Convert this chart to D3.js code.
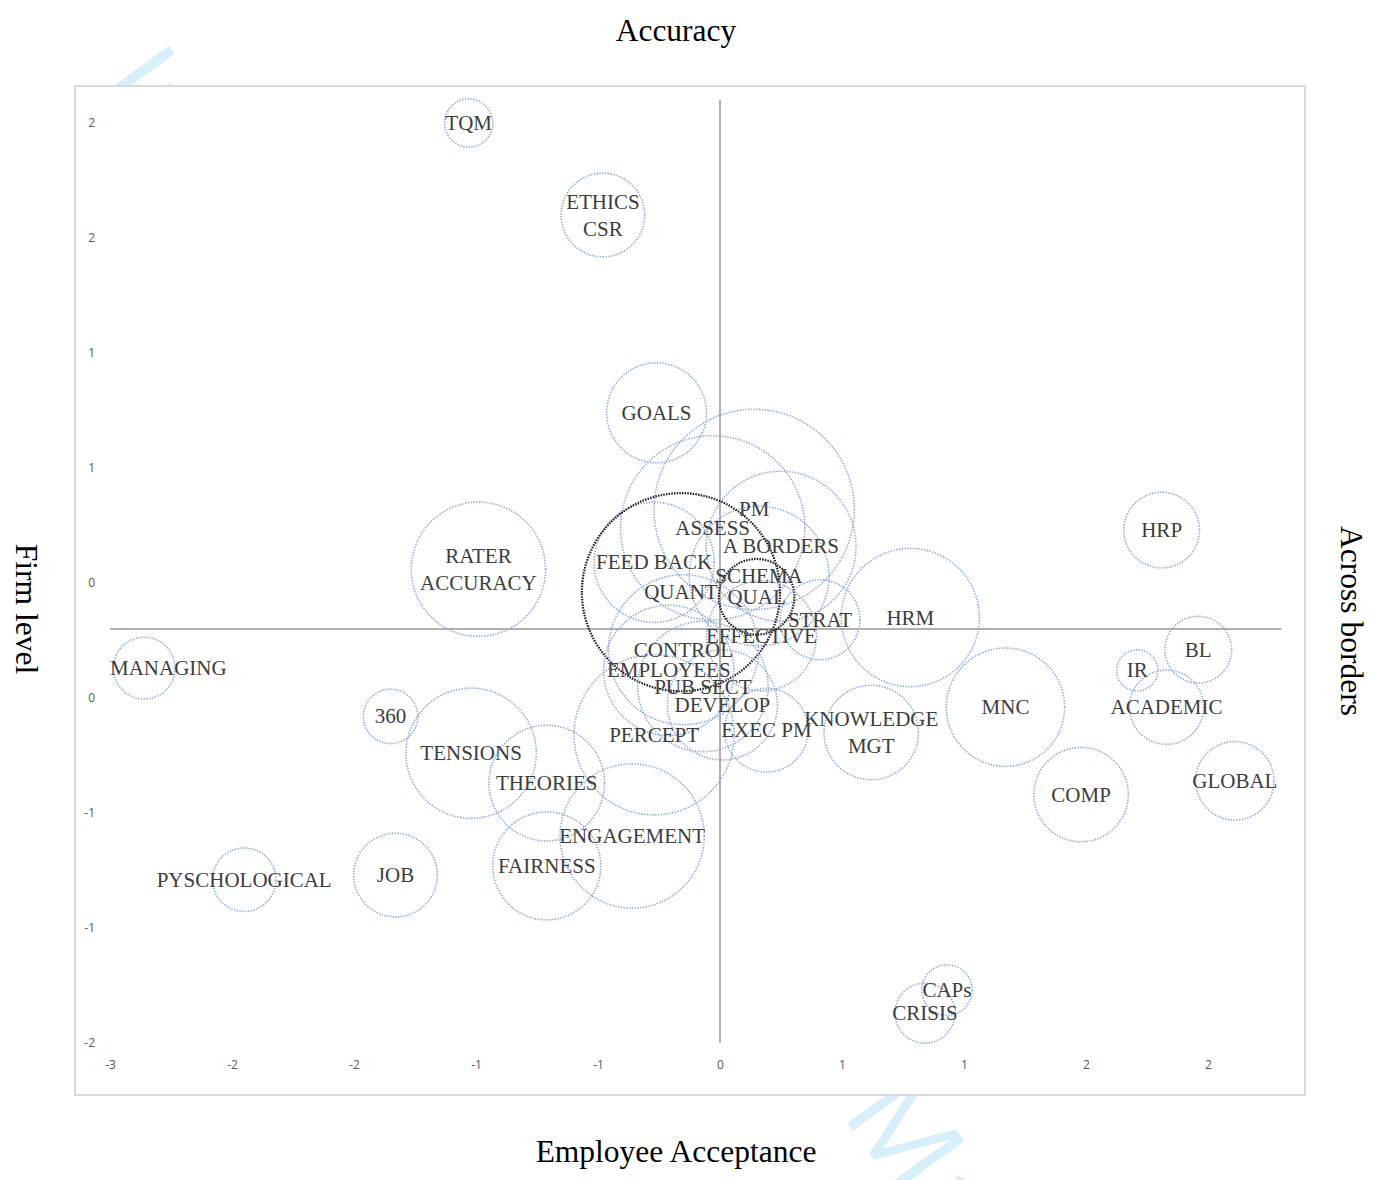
<!DOCTYPE html>
<html>
<head>
<meta charset="utf-8">
<script src="https://d3js.org/d3.v7.min.js"></script>
<style>
body{margin:0;background:#fff;}
</style>
</head>
<body>
<script>
var width = 1374, height = 1180;

// terms (two-line labels use "\n")
var terms = ["TQM","ETHICS\nCSR","GOALS","RATER\nACCURACY","MANAGING","360","TENSIONS","THEORIES",
  "FAIRNESS","ENGAGEMENT","JOB","PYSCHOLOGICAL","PERCEPT","EXEC PM","KNOWLEDGE\nMGT","HRM","MNC",
  "HRP","BL","IR","ACADEMIC","GLOBAL","COMP","CAPs","CRISIS","PM","ASSESS","A BORDERS","FEED BACK",
  "SCHEMA","QUANT","QUAL","STRAT","EFFECTIVE","CONTROL","EMPLOYEES","PUB SECT","DEVELOP"];
// employee acceptance
var acceptance = [-1.03,-0.48,-0.26,-0.99,-2.36,-1.35,-1.02,-0.71,
  -0.71,-0.36,-1.33,-1.95,-0.27,0.19,0.62,0.78,1.17,
  1.81,1.96,1.71,1.83,2.11,1.48,0.93,0.84,0.14,-0.03,0.25,-0.27,
  0.16,-0.16,0.15,0.41,0.17,-0.15,-0.21,-0.07,0.01];
// firm level / across borders
var accuracy = [2.20,1.80,0.94,0.26,-0.17,-0.38,-0.54,-0.67,
  -1.03,-0.90,-1.07,-1.09,-0.46,-0.44,-0.45,0.05,-0.34,
  0.43,-0.09,-0.18,-0.34,-0.66,-0.72,-1.57,-1.67,0.52,0.44,0.36,0.29,
  0.23,0.16,0.14,0.04,-0.03,-0.09,-0.18,-0.25,-0.33];
// bubble sizes
var sizes = [1.1,3.3,4.7,8.5,1.8,1.4,8.0,6.3,
  5.5,9.8,3.3,1.9,12.1,3.3,4.2,9.0,6.6,
  2.7,2.1,0.8,2.6,2.9,4.2,1.2,1.7,18.9,16.0,10.6,6.8,
  9.2,18.5,2.7,3.0,5.7,10.6,8.0,8.0,5.7];
var highlighted = ["QUANT","QUAL"];

var xTicks = [-2.5,-2,-1.5,-1,-0.5,0,0.5,1,1.5,2];
var xTickLabels = ["-3","-2","-2","-1","-1","0","1","1","2","2"];
var yTicks = [2.2,1.7,1.2,0.7,0.2,-0.3,-0.8,-1.3,-1.8];
var yTickLabels = ["2","2","1","1","0","0","-1","-1","-2"];

var data = terms.map(function(t,i){
  return {term:t, x:acceptance[i], y:accuracy[i], s:sizes[i], hl: highlighted.indexOf(t) >= 0};
});

var svg = d3.select("body").append("svg")
  .attr("width",width).attr("height",height)
  .style("font-family","'Liberation Serif','Times New Roman',serif");

// watermark behind the chart box
var wm = svg.append("text")
  .attr("transform","translate(94,86) rotate(54)")
  .style("font-family","'Open Sans',sans-serif")
  .style("font-size","118px")
  .style("fill","#d6effb");
wm.append("tspan").attr("textLength",1272).attr("lengthAdjust","spacing").text("International Journal of ");
wm.append("tspan").text("Manpower");

// chart box
svg.append("rect")
  .attr("x",75).attr("y",86).attr("width",1230).attr("height",1009)
  .style("fill","#fff").style("stroke","#d9d9d9").style("stroke-width",2);

var x = d3.scaleLinear().domain([-2.5,2.3]).range([110,1281.2]);
var y = d3.scaleLinear().domain([-1.8,2.3]).range([1043,100]);
var r = d3.scaleSqrt().domain([0,20]).range([0,103]);

// tick labels
var xaxis = d3.axisBottom(x).tickValues(xTicks)
  .tickFormat(function(d,i){return xTickLabels[i];}).tickSize(0).tickPadding(0);
var yaxis = d3.axisLeft(y).tickValues(yTicks)
  .tickFormat(function(d,i){return yTickLabels[i];}).tickSize(0).tickPadding(0);
var gx = svg.append("g").attr("transform","translate(0,1060)").call(xaxis);
var gy = svg.append("g").attr("transform","translate(95,0)").call(yaxis);
[gx,gy].forEach(function(g){
  g.select(".domain").remove();
  g.selectAll("text").style("font-family","'Open Sans',sans-serif")
    .style("font-size","12px").style("fill","#595959");
});

// zero lines
svg.append("line")
  .attr("x1",x(0)).attr("x2",x(0)).attr("y1",y(2.3)).attr("y2",y(-1.8))
  .style("stroke","#b0b0b0").style("stroke-width",2);
svg.append("line")
  .attr("x1",x(-2.5)).attr("x2",x(2.3)).attr("y1",y(0)).attr("y2",y(0))
  .style("stroke","#b0b0b0").style("stroke-width",2);

// bubbles
svg.append("g").selectAll("circle").data(data).enter().append("circle")
  .attr("cx",function(d){return x(d.x);})
  .attr("cy",function(d){return y(d.y);})
  .attr("r",function(d){return r(d.s);})
  .style("fill","none")
  .style("stroke",function(d){return d.hl ? "#1a1a1a" : "#8fa9d9";})
  .style("stroke-width",function(d){return d.hl ? 2.2 : 1.6;})
  .style("stroke-dasharray",function(d){return d.hl ? "1.5,1.2" : "1.4,1.4";});

// labels, kept inside the plot area like the original
var labels = svg.append("g").selectAll("text").data(data).enter().append("text")
  .attr("text-anchor","middle")
  .style("font-size","21px")
  .style("fill","#3d3d3d");
labels.each(function(d){
  var lines = d.term.split("\n");
  var t = d3.select(this);
  var y0 = y(d.y) - (lines.length-1)*13.5 + 7;
  lines.forEach(function(l,i){
    t.append("tspan").attr("x",0).attr("y",y0 + i*27).text(l);
  });
  var w = this.getBBox().width;
  var cx = Math.max(x(-2.5) + w/2, Math.min(x(2.3) - w/2, x(d.x)));
  t.selectAll("tspan").attr("x",cx);
});

// titles
svg.append("text").attr("x",676).attr("y",41).attr("text-anchor","middle")
  .style("font-size","31.5px").text("Accuracy");
svg.append("text").attr("x",676).attr("y",1162).attr("text-anchor","middle")
  .style("font-size","31.5px").text("Employee Acceptance");
svg.append("text").attr("transform","translate(16,609) rotate(90)").attr("text-anchor","middle")
  .style("font-size","31.5px").text("Firm level");
svg.append("text").attr("transform","translate(1341,621) rotate(90)").attr("text-anchor","middle")
  .style("font-size","31.5px").text("Across borders");
</script>
</body>
</html>
